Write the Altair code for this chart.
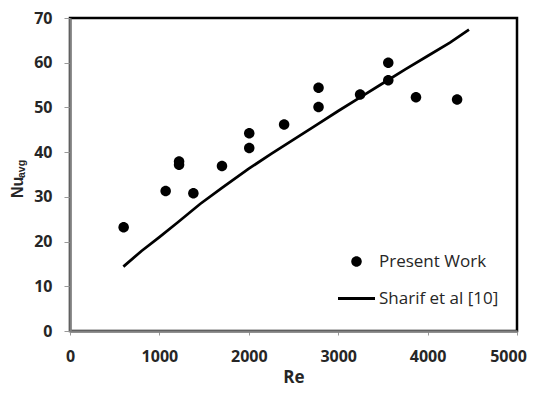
import altair as alt
import pandas as pd

# Present work (scatter)
pw_re = [600, 1070, 1220, 1220, 1380, 1700, 2005, 2005, 2395, 2780, 2780, 3245, 3560, 3560, 3870, 4330]
pw_nu = [23.2, 31.3, 37.9, 37.2, 30.8, 36.9, 44.2, 40.9, 46.2, 54.4, 50.1, 52.9, 60.0, 56.1, 52.3, 51.8]

# Sharif et al [10] (curve)
sh_re = [597, 800, 1000, 1200, 1455, 1700, 2000, 2250, 2500, 2750, 3000, 3250, 3500, 3750, 4000, 4250, 4463]
sh_nu = [14.4, 17.9, 21.0, 24.2, 28.4, 32.0, 36.3, 39.6, 42.8, 46.0, 49.2, 52.3, 55.4, 58.5, 61.5, 64.5, 67.4]

series_names = ["Present Work", "Sharif et al [10]"]
x_ticks = [0, 1000, 2000, 3000, 4000, 5000]
y_ticks = [0, 10, 20, 30, 40, 50, 60, 70]

FONT = "Open Sans"
TFONT = "Liberation Sans"
# symbols drawn in a unit box [-1, 1] scaled to sqrt(size) px
CIRCLE = "M-0.284,0A0.284,0.284,0,1,0,0.284,0A0.284,0.284,0,1,0,-0.284,0Z"
LINE = "M-1,-0.075L1,-0.075L1,0.075L-1,0.075Z"

pw = pd.DataFrame({"Re": pw_re, "Nu": pw_nu, "series": series_names[0]})
sh = pd.DataFrame({"Re": sh_re, "Nu": sh_nu})

xscale = alt.Scale(domain=[0, 5000], nice=False)
yscale = alt.Scale(domain=[0, 70], nice=False)

xaxis = alt.Axis(values=x_ticks, title="Re", grid=False,
                 labelFont=FONT, labelFontSize=16, labelFontWeight="bold", labelColor="#262626",
                 titleFont=FONT, titleFontSize=17, titleFontWeight="bold", titleColor="#262626",
                 domainColor="#808080", domainWidth=2.5, tickColor="#999", tickSize=4,
                 labelPadding=13, titlePadding=5, labelFlush=False, format="d",
                 labelOffset={"condition": {"test": "datum.value === 5000", "value": -9}, "value": 0})
yaxis = alt.Axis(values=y_ticks, title=None, grid=False,
                 labelFont=FONT, labelFontSize=16, labelFontWeight="bold", labelColor="#262626",
                 domainColor="#808080", domainWidth=2.5, tickColor="#999", tickSize=6,
                 labelPadding=12, labelFlush=False, format="d")

line = alt.Chart(sh).mark_line(color="black", strokeWidth=2.75).encode(
    x=alt.X("Re:Q", scale=xscale, axis=xaxis),
    y=alt.Y("Nu:Q", scale=yscale, axis=yaxis),
)

points = alt.Chart(pw).mark_point(filled=True, opacity=1, size=1369, color="black",
                                  strokeWidth=0).encode(
    x=alt.X("Re:Q", scale=xscale),
    y=alt.Y("Nu:Q", scale=yscale),
    shape=alt.Shape("series:N",
                    scale=alt.Scale(domain=series_names, range=[CIRCLE, LINE]),
                    legend=alt.Legend(title=None, orient="none", legendX=268, legendY=225,
                                      symbolSize=1369, symbolFillColor="black",
                                      symbolStrokeWidth=0,
                                      labelFont=FONT, labelFontSize=17, labelColor="#262626",
                                      labelOffset=4, rowPadding=10, padding=0, labelLimit=300)),
)

nu_title = alt.Chart(pd.DataFrame({"t": ["Nu"]})).mark_text(
    font=TFONT, fontSize=16, fontWeight="bold", angle=270, align="left",
    baseline="alphabetic", color="#262626").encode(
    x=alt.value(-47), y=alt.value(180), text="t:N")

avg_title = alt.Chart(pd.DataFrame({"t": ["avg"]})).mark_text(
    font=TFONT, fontSize=10.5, fontWeight="bold", angle=270, align="left",
    baseline="alphabetic", color="#262626").encode(
    x=alt.value(-45), y=alt.value(160), text="t:N")

chart = alt.layer(line, points, nu_title, avg_title).properties(
    width=447, height=313,
    autosize=alt.AutoSizeParams(type="none"),
    padding={"left": 62, "top": 10, "right": 10, "bottom": 55},
).configure_view(stroke="black", strokeWidth=2.5)

chart.save("out.html", embed_options={"renderer": "svg", "actions": False})
